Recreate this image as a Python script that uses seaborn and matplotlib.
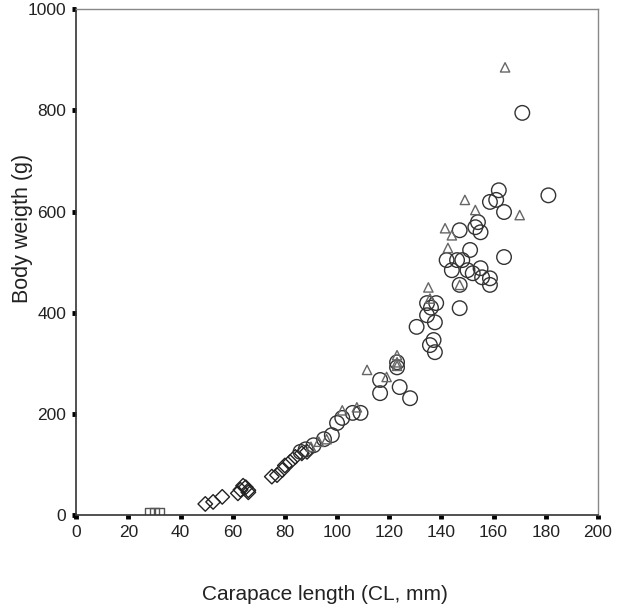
import pandas as pd
import numpy as np
import matplotlib.pyplot as plt
import seaborn as sns

sns.set_style("white")
plt.rcParams['font.family'] = ['Liberation Sans', 'DejaVu Sans']

# carapace length (mm) and body weight (g)
sq_cl = [28, 30, 32]
sq_w = [5, 5, 5]

dia_cl = [49.5, 52.5, 56, 62, 63, 64, 65, 66, 66, 75, 77, 79, 80, 82, 84, 86.5, 88.5]
dia_w = [22, 26, 36, 43, 50, 58, 55, 49, 45, 76, 79, 89, 98, 105, 115, 122, 125]

circ_cl = [86, 88, 91, 95, 98, 100, 102, 106, 109, 116.5, 116.5, 123, 123, 124,
           128, 130.5, 134.5, 137.5, 137, 137.5, 138, 134.5, 147, 136, 135.6,
           181, 162, 158.6, 161, 164, 154, 155, 153, 147, 164, 151, 142, 146,
           148, 144, 150, 155, 152, 155.6, 158.6, 158.6, 147, 171]
circ_w = [125, 130, 138, 150, 158, 182, 192, 202, 202, 267, 241, 302, 292, 253,
          231, 372, 395, 381, 346, 322, 419, 419, 409, 410, 336,
          632, 642, 619, 623, 599, 579, 559, 569, 563, 510, 524, 504, 504,
          504, 484, 484, 488, 478, 470, 468, 455, 455, 795]

tri_cl = [90, 93, 96, 102, 107.6, 111.5, 119, 123, 123, 123, 135.6, 135, 141.4,
          144, 142.5, 149, 153, 170, 147, 164.4]
tri_w = [135, 145, 150, 207, 213, 287, 273, 316, 302, 295, 428, 450, 567,
         553, 528, 623, 603, 593, 455, 885]

groups = [
    (sq_cl, sq_w, "s", 40, "#555555"),
    (dia_cl, dia_w, "D", 55, "#222222"),
    (circ_cl, circ_w, "o", 110, "#333333"),
    (tri_cl, tri_w, "^", 45, "#666666"),
]

fig, ax = plt.subplots(figsize=(6.19, 6.11), dpi=100)
fig.subplots_adjust(left=0.123, right=0.966, top=0.985, bottom=0.157)

for cl, w, m, s, c in groups:
    df = pd.DataFrame({"cl": cl, "w": w})
    sns.scatterplot(data=df, x="cl", y="w", marker=m, s=s, ax=ax,
                    facecolor="none", edgecolor=c, linewidth=1.0, legend=False)

ax.set_xlim(0, 200)
ax.set_ylim(0, 1000)
ax.set_xticks(np.arange(0, 201, 20))
ax.set_yticks(np.arange(0, 1001, 200))
ax.tick_params(bottom=True, left=True, direction="out", length=3, width=3.5,
               color="black", labelsize=12.5, labelcolor="#222222", pad=4)
ax.set_xlabel("Carapace length (CL, mm)", fontsize=15, color="#222222")
ax.set_ylabel("Body weigth (g)", fontsize=15.5, color="#222222")
ax.xaxis.set_label_coords(0.477, -0.138)
ax.yaxis.set_label_coords(-0.082, 0.567)

for side in ["left", "bottom"]:
    ax.spines[side].set_color("#333333")
    ax.spines[side].set_linewidth(1.2)
for side in ["top", "right"]:
    ax.spines[side].set_color("#888888")
    ax.spines[side].set_linewidth(1.0)

plt.savefig("out.png", dpi=100)
